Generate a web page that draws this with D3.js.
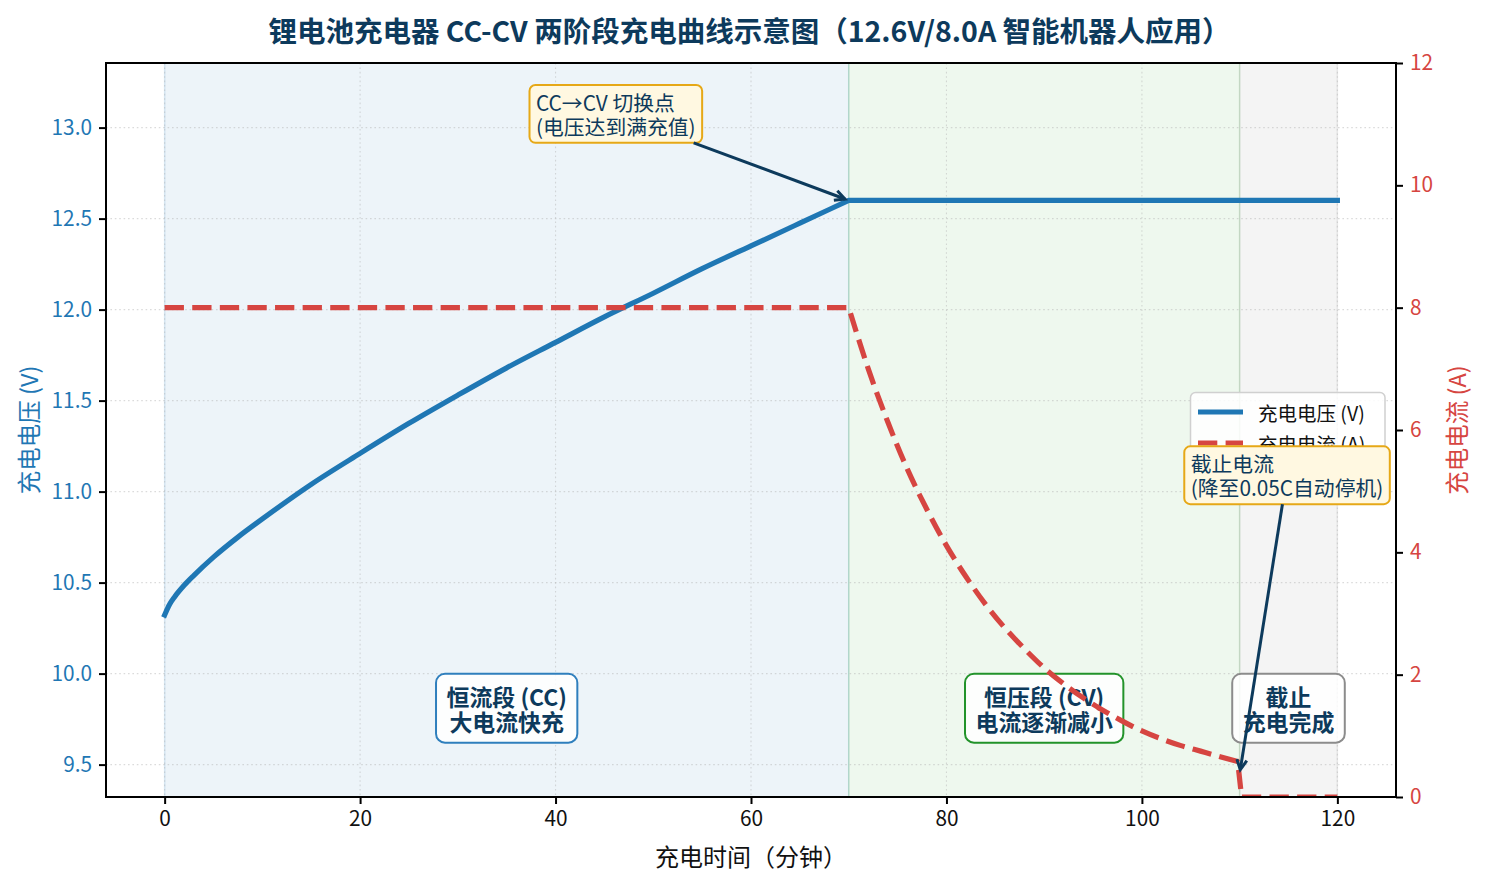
<!DOCTYPE html>
<html lang="zh">
<head>
<meta charset="utf-8">
<title>锂电池充电器 CC-CV 两阶段充电曲线示意图</title>
<script src="https://d3js.org/d3.v7.min.js"></script>
<style>
    body { margin: 0; background: #fff; }
    svg text { font-family: "Noto Sans CJK SC", "Noto Sans", sans-serif; }
</style>
</head>
<body>
<div id="chart"></div>
<script>
    // charging voltage (V)
    const voltTime   = [0, 0.5, 1, 2, 3, 5, 7.5, 10, 15, 20, 25, 30, 35, 40, 45, 50, 55, 60, 65, 70, 120];
    const voltValues = [10.322, 10.38, 10.42, 10.485, 10.54, 10.64, 10.75, 10.85, 11.04, 11.21, 11.375,
                        11.53, 11.68, 11.82, 11.96, 12.09, 12.225, 12.35, 12.475, 12.6, 12.6];

    // charging current (A)
    const currTime   = [0, 70, 72, 74, 76, 78, 80, 82, 84, 86, 88, 90, 92, 94, 96, 98,
                        100, 102, 104, 106, 108, 109.8, 110.2, 120];
    const currValues = [8, 8, 7.0, 6.13, 5.36, 4.7, 4.11, 3.6, 3.15, 2.76, 2.42, 2.11, 1.85, 1.62, 1.42, 1.24,
                        1.08, 0.95, 0.84, 0.75, 0.66, 0.58, 0, 0];

    // charging stages
    const stageStart = [0, 70, 110];
    const stageEnd   = [70, 110, 120];
    const stageFill  = ['#1f77b4', '#2ca02c', '#808080'];
    const stageLabel = [['恒流段 (CC)', '大电流快充'], ['恒压段 (CV)', '电流逐渐减小'], ['截止', '充电完成']];
    const stageEdge  = ['#2f7fbd', '#22932a', '#8c8c8c'];

    const xTicks = [0, 20, 40, 60, 80, 100, 120];
    const vTicks = [9.5, 10.0, 10.5, 11.0, 11.5, 12.0, 12.5, 13.0];
    const aTicks = [0, 2, 4, 6, 8, 10, 12];
    const seriesNames = ['充电电压 (V)', '充电电流 (A)'];

    const width = 1485, height = 885;
    const margin = {top: 63, right: 89, bottom: 88, left: 106};
    const blue = '#1f77b4', red = '#d64541', navy = '#0d3a5c';

    const svg = d3.select('#chart').append('svg')
        .attr('width', width).attr('height', height)
        .attr('viewBox', [0, 0, width, height]);

    const x = d3.scaleLinear().domain([-6, 126]).range([margin.left, width - margin.right]);
    const yV = d3.scaleLinear().domain([9.322, 13.355]).range([height - margin.bottom, margin.top]);
    const yA = d3.scaleLinear().domain([0, 12]).range([height - margin.bottom, margin.top]);

    svg.append('defs').append('clipPath').attr('id', 'plot')
        .append('rect')
        .attr('x', margin.left).attr('y', margin.top)
        .attr('width', width - margin.left - margin.right)
        .attr('height', height - margin.top - margin.bottom);

    const plot = svg.append('g').attr('clip-path', 'url(#plot)');

    // background spans for the stages
    plot.selectAll('rect.stage')
        .data(stageStart)
        .join('rect')
        .attr('class', 'stage')
        .attr('x', (d, i) => x(d))
        .attr('width', (d, i) => x(stageEnd[i]) - x(d))
        .attr('y', margin.top)
        .attr('height', height - margin.top - margin.bottom)
        .attr('fill', (d, i) => stageFill[i])
        .attr('fill-opacity', (d, i) => i === 2 ? 0.09 : 0.08)
        .attr('stroke', (d, i) => stageFill[i])
        .attr('stroke-opacity', 0.16)
        .attr('stroke-width', 1.5);

    // dotted grid
    const grid = plot.append('g')
        .attr('stroke', '#b0b0b0').attr('stroke-opacity', 0.45)
        .attr('stroke-width', 1.1).attr('stroke-dasharray', '1.6,2.8');
    grid.selectAll('line.gx').data(xTicks).join('line')
        .attr('x1', d => x(d)).attr('x2', d => x(d))
        .attr('y1', margin.top).attr('y2', height - margin.bottom);
    grid.selectAll('line.gy').data(vTicks).join('line')
        .attr('y1', d => yV(d)).attr('y2', d => yV(d))
        .attr('x1', margin.left).attr('x2', width - margin.right);

    // joins a smooth part and straight parts into one path string
    function pathOf(times, values, ys, smoothFrom, smoothTo) {
        const pts = times.map((t, i) => [x(t), ys(values[i])]);
        const smooth = d3.line().curve(d3.curveMonotoneX)(pts.slice(smoothFrom, smoothTo + 1));
        const before = pts.slice(0, smoothFrom);
        const after = pts.slice(smoothTo + 1);
        let d = before.length ? 'M' + before.map(p => p.join(',')).join('L') + 'L' + smooth.slice(1) : smooth;
        after.forEach(p => { d += 'L' + p.join(','); });
        return d;
    }

    // voltage line
    plot.append('path')
        .attr('d', pathOf(voltTime, voltValues, yV, 0, voltTime.indexOf(70)))
        .attr('fill', 'none').attr('stroke', blue)
        .attr('stroke-width', 5.2)
        .attr('stroke-linejoin', 'round').attr('stroke-linecap', 'square');

    // boxed multi-line text helper
    function boxText(g, lines, px, py, o) {
        const grp = g.append('g');
        const rect = grp.append('rect');
        const n = lines.length;
        const txt = lines.map((s, i) => grp.append('text')
            .attr('x', px)
            .attr('y', py + (i - (n - 1) / 2) * o.lh)
            .attr('dominant-baseline', 'central')
            .attr('text-anchor', o.anchor)
            .attr('font-size', o.fs)
            .attr('font-weight', o.bold ? 'bold' : 'normal')
            .attr('fill', navy)
            .text(s));
        const w = d3.max(txt, t => t.node().getComputedTextLength());
        const left = o.anchor === 'middle' ? px - w / 2 : px;
        const h = (n - 1) * o.lh + o.fs;
        rect.attr('x', left - o.pad).attr('y', py - h / 2 - o.pad)
            .attr('width', w + 2 * o.pad).attr('height', h + 2 * o.pad)
            .attr('rx', o.r).attr('ry', o.r)
            .attr('fill', o.fill).attr('fill-opacity', o.fillOpacity)
            .attr('stroke', o.stroke).attr('stroke-width', o.sw);
        return {x0: left - o.pad, x1: left + w + o.pad, y0: py - h / 2 - o.pad, y1: py + h / 2 + o.pad,
                cx: left + w / 2, cy: py};
    }

    // arrow from box edge to target, open head, shrunk a bit at the tip
    function arrow(g, box, tx, ty) {
        const dx = tx - box.cx, dy = ty - box.cy;
        let t = 1;
        if (dx !== 0) t = Math.min(t, ((dx > 0 ? box.x1 : box.x0) - box.cx) / dx);
        if (dy !== 0) t = Math.min(t, ((dy > 0 ? box.y1 : box.y0) - box.cy) / dy);
        const sx = box.cx + dx * t, sy = box.cy + dy * t;
        const len = Math.hypot(tx - sx, ty - sy);
        const ux = (tx - sx) / len, uy = (ty - sy) / len;
        const ex = tx - ux * 4, ey = ty - uy * 4;
        const hl = 10, hw = 5;
        const bx = ex - ux * hl, by = ey - uy * hl;
        g.append('line').attr('x1', sx).attr('y1', sy).attr('x2', ex).attr('y2', ey)
            .attr('stroke', navy).attr('stroke-width', 3);
        g.append('path')
            .attr('d', `M${bx - uy * hw},${by + ux * hw}L${ex},${ey}L${bx + uy * hw},${by - ux * hw}`)
            .attr('fill', 'none').attr('stroke', navy).attr('stroke-width', 3)
            .attr('stroke-linejoin', 'miter');
    }

    // stage labels
    const stageMid = [35, 90, 115];
    stageMid.forEach((m, i) => {
        boxText(svg, stageLabel[i], x(m), yV(9.81), {
            fs: 22.9, lh: 25, bold: true, anchor: 'middle', pad: 10.5, r: 9,
            fill: '#fff', fillOpacity: 0.85, stroke: stageEdge[i], sw: 2
        });
    });

    // CC -> CV switch annotation
    const ann = svg.append('g');
    const box1 = boxText(ann, ['CC→CV 切换点', '(电压达到满充值)'], x(38), yV(13.075), {
        fs: 20.8, lh: 24, anchor: 'start', pad: 6.5, r: 6,
        fill: '#fff8e1', fillOpacity: 1, stroke: '#e6a817', sw: 2
    });
    arrow(ann, box1, x(70), yV(12.6));

    // current line (right axis)
    svg.append('path')
        .attr('clip-path', 'url(#plot)')
        .attr('d', pathOf(currTime, currValues, yA, 1, currTime.indexOf(109.8)))
        .attr('fill', 'none').attr('stroke', red)
        .attr('stroke-width', 5.2)
        .attr('stroke-dasharray', '19.3,8.3')
        .attr('stroke-linejoin', 'round');

    // legend
    const lg = svg.append('g');
    lg.append('rect')
        .attr('x', 1190.5).attr('y', 392.5).attr('width', 194.5).attr('height', 70)
        .attr('rx', 5).attr('fill', '#fff').attr('fill-opacity', 0.85)
        .attr('stroke', '#d0d0d0').attr('stroke-width', 1.5);
    seriesNames.forEach((name, i) => {
        const ly = 412 + i * 31;
        lg.append('line')
            .attr('x1', 1198).attr('x2', 1243).attr('y1', ly).attr('y2', ly)
            .attr('stroke', i === 0 ? blue : red).attr('stroke-width', 5.2)
            .attr('stroke-dasharray', i === 0 ? null : '19.3,8.3');
        lg.append('text')
            .attr('x', 1258).attr('y', ly)
            .attr('dominant-baseline', 'central')
            .attr('font-size', 19.5).attr('fill', '#111')
            .text(name);
    });

    // cutoff annotation
    const ann2 = svg.append('g');
    const box2 = boxText(ann2, ['截止电流', '(降至0.05C自动停机)'], x(105), yA(5.26), {
        fs: 20.8, lh: 24, anchor: 'start', pad: 6.5, r: 6,
        fill: '#fff8e1', fillOpacity: 1, stroke: '#e6a817', sw: 2
    });
    arrow(ann2, box2, x(110), yA(0.38));

    // axes
    const xAxis = svg.append('g')
        .attr('transform', `translate(0,${height - margin.bottom})`)
        .call(d3.axisBottom(x).tickValues(xTicks).tickSize(7).tickPadding(7).tickSizeOuter(0));
    xAxis.selectAll('text').attr('font-size', 20.8).attr('fill', '#111');

    const yAxisL = svg.append('g')
        .attr('transform', `translate(${margin.left},0)`)
        .call(d3.axisLeft(yV).tickValues(vTicks).tickFormat(d3.format('.1f')).tickSize(7).tickPadding(7).tickSizeOuter(0));
    yAxisL.selectAll('text').attr('font-size', 20.8).attr('fill', blue);

    const yAxisR = svg.append('g')
        .attr('transform', `translate(${width - margin.right},0)`)
        .call(d3.axisRight(yA).tickValues(aTicks).tickSize(7).tickPadding(7).tickSizeOuter(0));
    yAxisR.selectAll('text').attr('font-size', 20.8).attr('fill', red);

    [xAxis, yAxisL, yAxisR].forEach(a => {
        a.selectAll('.tick line').attr('stroke', '#000').attr('stroke-width', 2);
        a.select('.domain').remove();
    });

    // frame
    svg.append('rect')
        .attr('x', margin.left).attr('y', margin.top)
        .attr('width', width - margin.left - margin.right)
        .attr('height', height - margin.top - margin.bottom)
        .attr('fill', 'none').attr('stroke', '#000').attr('stroke-width', 2);

    // titles
    svg.append('text')
        .attr('x', width / 2 + 7).attr('y', 29)
        .attr('text-anchor', 'middle').attr('dominant-baseline', 'central')
        .attr('font-size', 28.5).attr('font-weight', 'bold').attr('fill', navy)
        .text('锂电池充电器 CC-CV 两阶段充电曲线示意图（12.6V/8.0A 智能机器人应用）');

    svg.append('text')
        .attr('x', (margin.left + width - margin.right) / 2).attr('y', 855)
        .attr('text-anchor', 'middle').attr('dominant-baseline', 'central')
        .attr('font-size', 24).attr('fill', '#111')
        .text('充电时间（分钟）');

    svg.append('text')
        .attr('transform', `translate(28,${(margin.top + height - margin.bottom) / 2}) rotate(-90)`)
        .attr('text-anchor', 'middle').attr('dominant-baseline', 'central')
        .attr('font-size', 23.5).attr('fill', blue)
        .text('充电电压 (V)');

    svg.append('text')
        .attr('transform', `translate(1456,${(margin.top + height - margin.bottom) / 2}) rotate(-90)`)
        .attr('text-anchor', 'middle').attr('dominant-baseline', 'central')
        .attr('font-size', 23.5).attr('fill', red)
        .text('充电电流 (A)');
</script>
</body>
</html>
